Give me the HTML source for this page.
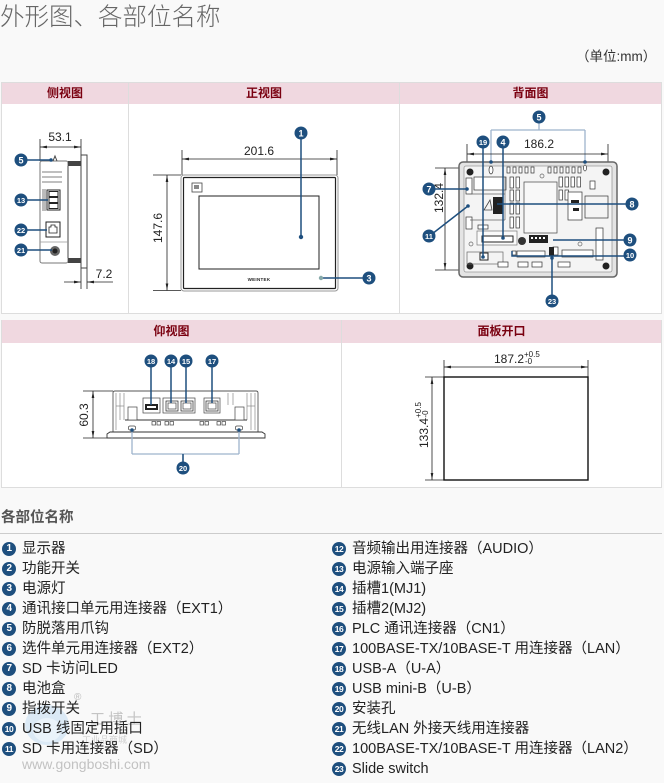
<!DOCTYPE html>
<html><head><meta charset="utf-8">
<style>
*{margin:0;padding:0;box-sizing:border-box}
html,body{width:664px;height:783px;overflow:hidden;background:#f9f9f9;font-family:"Liberation Sans","Noto Sans CJK SC",sans-serif;color:#222}
.abs{position:absolute}
.title{left:0;top:3px;font-size:24.5px;line-height:30px;color:#666;font-weight:300;font-family:"Liberation Sans","Noto Sans CJK SC",sans-serif;white-space:nowrap}
.unit{left:576px;top:49px;font-size:13.5px;line-height:16px;color:#333;white-space:nowrap}
.tbl{background:#fff;border:1px solid #ddd}
.hd{background:#f0d8e0}
.hdt{font-size:12px;font-weight:bold;color:#7a0010;line-height:22px;text-align:center;font-family:"Liberation Sans","Noto Sans CJK SC",sans-serif}
.vl{width:1px;background:#ddd}
.h2{left:1px;top:509px;font-size:14.5px;line-height:18px;font-weight:bold;color:#555;white-space:nowrap}
.hr{left:0;top:533px;width:662px;height:1px;background:#ccc}
.col{position:absolute}
.it{position:relative;height:20px;line-height:20px;font-size:14.5px;padding-left:20px;white-space:nowrap;color:#222}
.n{position:absolute;left:0;top:3px;width:14px;height:14px;border-radius:50%;background:#1e4f7e;color:#fff;font:bold 10px/14px "Liberation Sans",sans-serif;text-align:center;letter-spacing:-0.5px}
.n2{font-size:8.5px}
</style></head><body>

<div class="abs title">外形图、各部位名称</div>
<div class="abs unit">（单位:mm）</div>

<!-- table 1 -->
<div class="abs tbl" style="left:1px;top:82px;width:661px;height:232px"></div>
<div class="abs hd" style="left:2px;top:83px;width:659px;height:21px"></div>
<div class="abs hdt" style="left:2px;top:82px;width:126px">侧视图</div>
<div class="abs hdt" style="left:129px;top:82px;width:270px">正视图</div>
<div class="abs hdt" style="left:400px;top:82px;width:261px">背面图</div>
<div class="abs vl" style="left:128px;top:82px;height:231px"></div>
<div class="abs vl" style="left:399px;top:82px;height:231px"></div>

<!-- table 2 -->
<div class="abs tbl" style="left:1px;top:320px;width:661px;height:168px"></div>
<div class="abs hd" style="left:2px;top:320px;width:659px;height:23px"></div>
<div class="abs hdt" style="left:2px;top:320px;width:339px;line-height:23px">仰视图</div>
<div class="abs hdt" style="left:342px;top:320px;width:319px;line-height:23px">面板开口</div>
<div class="abs vl" style="left:341px;top:320px;height:167px"></div>

<svg class="abs" style="left:0;top:0" width="664" height="500" font-family="Liberation Sans, sans-serif">
<defs>
<marker id="ar" viewBox="0 0 10 10" refX="10" refY="5" markerWidth="7" markerHeight="7" orient="auto-start-reverse" markerUnits="userSpaceOnUse"><path d="M0,3.1L10,5L0,6.9z" fill="#222"/></marker>
</defs>

<!-- ============ SIDE VIEW ============ -->
<g stroke="#222" stroke-width="0.8" fill="none">
<line x1="40" y1="139" x2="40" y2="161"/>
<line x1="81" y1="139" x2="81" y2="155"/>
<line x1="40" y1="147" x2="81" y2="147" marker-start="url(#ar)" marker-end="url(#ar)"/>
<line x1="81" y1="268" x2="81" y2="289"/>
<line x1="87" y1="268" x2="87" y2="289"/>
<line x1="64" y1="282" x2="81" y2="282" marker-end="url(#ar)"/>
<line x1="113" y1="282" x2="87" y2="282" marker-end="url(#ar)"/>
</g>
<text x="60" y="141" font-size="12" text-anchor="middle" fill="#222">53.1</text>
<text x="104" y="278" font-size="12" text-anchor="middle" fill="#222">7.2</text>
<g stroke="#777" stroke-width="1" fill="#fff">
<rect x="40" y="161" width="28" height="102" rx="2"/>
<rect x="81" y="155" width="6" height="113" stroke="#444"/>
</g>
<rect x="68" y="161" width="13" height="5" fill="#444"/>
<rect x="68" y="258" width="13" height="5" fill="#444"/>
<line x1="68" y1="166" x2="68" y2="258" stroke="#444"/>
<g stroke="#555" stroke-width="0.8">
<line x1="42" y1="172" x2="62" y2="172"/>
<line x1="42" y1="177" x2="62" y2="177"/>
<line x1="42" y1="182" x2="62" y2="182"/>
<line x1="43" y1="189" x2="43" y2="211"/>
<line x1="45" y1="189" x2="45" y2="211"/>
<line x1="40" y1="242" x2="68" y2="242" stroke="#999"/>
</g>
<path d="M53,161 L55,156 L57,161" fill="none" stroke="#444"/>
<rect x="47" y="190" width="13" height="20" fill="#fff" stroke="#222"/>
<rect x="49" y="191.5" width="9" height="5" fill="none" stroke="#222"/>
<rect x="49" y="197.5" width="9" height="5" fill="none" stroke="#222"/>
<rect x="49" y="203.5" width="9" height="5" fill="none" stroke="#222"/>
<rect x="46" y="222" width="14" height="15" fill="#fff" stroke="#222"/>
<path d="M49,233 L49,227 L51,227 L51,225 L55,225 L55,227 L57,227 L57,233 z" fill="none" stroke="#222" stroke-width="0.8"/>
<circle cx="55" cy="251" r="5" fill="#666"/>
<circle cx="55" cy="251" r="2.5" fill="#222"/>

<!-- callouts side -->
<g stroke="#1e4f7e" stroke-width="1.5">
<line x1="21" y1="160" x2="51" y2="160"/>
<line x1="21" y1="200" x2="48" y2="200"/>
<line x1="21" y1="230" x2="47" y2="230"/>
<line x1="21" y1="250" x2="52" y2="250"/>
</g>
<g fill="#1e4f7e"><circle cx="51" cy="160" r="1.8"/></g>

<!-- ============ FRONT VIEW ============ -->
<g stroke="#222" stroke-width="0.8" fill="none">
<line x1="182" y1="150" x2="182" y2="175"/>
<line x1="337" y1="150" x2="337" y2="175"/>
<line x1="182" y1="159" x2="337" y2="159" marker-start="url(#ar)" marker-end="url(#ar)"/>
<line x1="153" y1="175" x2="181" y2="175"/>
<line x1="153" y1="290.5" x2="181" y2="290.5"/>
<line x1="167" y1="175" x2="167" y2="290.5" marker-start="url(#ar)" marker-end="url(#ar)"/>
</g>
<text x="259" y="155" font-size="12" text-anchor="middle" fill="#222">201.6</text>
<text transform="translate(162,228) rotate(-90)" font-size="12" text-anchor="middle" fill="#222">147.6</text>
<rect x="181" y="175" width="157" height="116" rx="3" fill="#fff" stroke="#999" stroke-width="1"/>
<rect x="183.5" y="177.5" width="152" height="111" rx="1" fill="none" stroke="#222" stroke-width="1.2"/>
<rect x="199" y="196" width="120" height="73" fill="#fff" stroke="#222" stroke-width="1"/>
<rect x="192" y="183" width="10" height="9" fill="#fff" stroke="#444" stroke-width="0.8"/>
<rect x="194" y="185" width="5" height="4" fill="#888"/>
<text x="259" y="281" font-size="4.5" font-weight="bold" text-anchor="middle" fill="#222" letter-spacing="0.3">WEINTEK</text>
<g stroke="#1e4f7e" stroke-width="1.5">
<line x1="301" y1="135" x2="301" y2="237"/>
<line x1="321" y1="278" x2="365" y2="278"/>
</g>
<circle cx="301" cy="237" r="2.2" fill="#1e4f7e"/>
<circle cx="321" cy="278" r="2.2" fill="#8aa"/>

<!-- ============ BACK VIEW ============ -->
<g stroke="#9db3cc" stroke-width="1.3" fill="none">
<line x1="539" y1="120" x2="539" y2="130"/>
<line x1="491" y1="130" x2="585" y2="130"/>
<line x1="491" y1="130" x2="491" y2="162"/>
<line x1="585" y1="130" x2="585" y2="162"/>
</g>
<g stroke="#222" stroke-width="0.8" fill="none">
<line x1="467" y1="144" x2="467" y2="168"/>
<line x1="608" y1="144" x2="608" y2="168"/>
<line x1="467" y1="154" x2="608" y2="154" marker-start="url(#ar)" marker-end="url(#ar)"/>
<line x1="435" y1="168" x2="467" y2="168"/>
<line x1="435" y1="270" x2="467" y2="270"/>
<line x1="445" y1="168" x2="445" y2="270" marker-start="url(#ar)" marker-end="url(#ar)"/>
</g>
<text x="539" y="148" font-size="12" text-anchor="middle" fill="#222">186.2</text>
<text transform="translate(443,198) rotate(-90)" font-size="12" text-anchor="middle" fill="#222">132.4</text>
<rect x="459" y="162" width="158" height="115" rx="4" fill="#e4e4e4" stroke="#666" stroke-width="1.5"/>
<rect x="464" y="166" width="148" height="106" rx="2" fill="#f4f4f4" stroke="#999" stroke-width="0.8"/>
<g fill="#222">
<circle cx="470" cy="172" r="3.5"/><circle cx="606" cy="172" r="3.5"/>
<circle cx="470" cy="266" r="3.5"/><circle cx="606" cy="266" r="3.5"/>
</g>
<g fill="#fff" stroke="#333" stroke-width="0.7">
<rect x="507" y="167" width="3" height="6"/><rect x="513" y="167" width="3" height="6"/><rect x="519" y="167" width="3" height="6"/><rect x="525" y="167" width="3" height="6"/><rect x="531" y="167" width="3" height="6"/>
<rect x="548" y="167" width="3" height="6"/><rect x="554" y="167" width="3" height="6"/><rect x="560" y="167" width="3" height="6"/><rect x="566" y="167" width="3" height="6"/><rect x="572" y="167" width="3" height="6"/><rect x="578" y="167" width="3" height="6"/>
<rect x="510" y="177" width="3.5" height="11"/><rect x="516" y="177" width="3.5" height="11"/>
<rect x="510" y="190" width="3.5" height="11"/><rect x="516" y="190" width="3.5" height="11"/>
<rect x="510" y="203" width="3.5" height="11"/><rect x="516" y="203" width="3.5" height="11"/>
<rect x="510" y="217" width="3.5" height="11"/><rect x="516" y="217" width="3.5" height="11"/>
<rect x="559" y="177" width="3.5" height="10"/><rect x="565" y="177" width="3.5" height="10"/><rect x="571" y="177" width="3.5" height="10"/><rect x="577" y="177" width="3.5" height="10"/>
<rect x="559" y="190" width="3.5" height="10"/><rect x="565" y="190" width="3.5" height="10"/>
<ellipse cx="491" cy="170" rx="2" ry="4"/><ellipse cx="585" cy="168" rx="1.5" ry="3"/>
<rect x="524" y="182" width="33" height="51" fill="#f8f8f8" stroke="#444"/>
<rect x="474" y="177" width="32" height="13"/>
<rect x="466" y="178" width="6" height="16"/>
<rect x="466" y="217" width="6" height="12"/>
<rect x="477" y="231" width="40" height="14" fill="#fafafa" stroke="#777"/>
<rect x="482" y="236" width="31" height="6" stroke="#222" stroke-width="1"/>
<rect x="478" y="225" width="10" height="4"/>
<rect x="568" y="192" width="14" height="28"/>
<rect x="585" y="196" width="23" height="22" fill="none"/>
<rect x="590" y="181" width="5" height="8"/>
<rect x="596" y="228" width="7" height="32"/>
<rect x="562" y="250" width="31" height="7"/>
<rect x="467" y="252" width="36" height="12" fill="none" stroke="#666"/>
<rect x="480" y="253" width="8" height="7" stroke="#222" stroke-width="1"/>
<rect x="498" y="262" width="10" height="5"/><rect x="518" y="262" width="10" height="5"/><rect x="532" y="262" width="10" height="5"/><rect x="558" y="262" width="12" height="5"/>
<rect x="512" y="251" width="4" height="4"/>
<rect x="517" y="251" width="28" height="6"/>
<rect x="553" y="247" width="5" height="8"/>
</g>
<g stroke="#666" stroke-width="0.7" fill="none">
<line x1="470" y1="194" x2="505" y2="194"/>
<line x1="505" y1="177" x2="505" y2="220"/>
<line x1="470" y1="220" x2="505" y2="220"/>
<circle cx="542" cy="176" r="2"/><circle cx="471" cy="244" r="2"/><circle cx="580" cy="244" r="2"/>
</g>
<path d="M484,210 L490,200 L492,210z" fill="none" stroke="#444" stroke-width="0.8"/>
<rect x="493" y="197" width="10" height="17" fill="#222"/>
<circle cx="522" cy="241" r="4" fill="#333"/>
<rect x="529" y="235" width="19" height="8" fill="#222"/>
<g fill="#fff"><rect x="531" y="237" width="2" height="2"/><rect x="535" y="237" width="2" height="2"/><rect x="539" y="237" width="2" height="2"/><rect x="543" y="237" width="2" height="2"/></g>
<rect x="549" y="247" width="5" height="9" fill="#222"/>
<rect x="571" y="200" width="8" height="3" fill="#222"/><rect x="573" y="208" width="6" height="3" fill="#222"/>

<g stroke="#1e4f7e" stroke-width="1.5" fill="none">
<line x1="483" y1="145" x2="483" y2="257"/>
<line x1="503" y1="145" x2="503" y2="238"/>
<line x1="432" y1="189" x2="467" y2="189"/>
<line x1="432" y1="234" x2="468" y2="206"/>
<line x1="497" y1="204" x2="628" y2="204"/>
<line x1="553" y1="240" x2="626" y2="240"/>
<path d="M512,251 L512,256 L626,256"/>
<line x1="552" y1="298" x2="552" y2="258"/>
</g>
<g fill="#1e4f7e">
<circle cx="483" cy="257" r="1.8"/><circle cx="503" cy="238" r="1.8"/><circle cx="467" cy="189" r="1.8"/><circle cx="468" cy="206" r="1.8"/><circle cx="552" cy="258" r="1.8"/>
<circle cx="491" cy="162" r="1.8"/><circle cx="585" cy="162" r="1.8"/>
</g>

<!-- ============ BOTTOM VIEW ============ -->
<g stroke="#222" stroke-width="0.8" fill="none">
<line x1="83" y1="391" x2="113" y2="391"/>
<line x1="83" y1="438" x2="107" y2="438"/>
<line x1="93" y1="391" x2="93" y2="438" marker-start="url(#ar)" marker-end="url(#ar)"/>
</g>
<text transform="translate(88,415) rotate(-90)" font-size="12" text-anchor="middle" fill="#222">60.3</text>
<path d="M113,432 L113,393 Q113,391 115,391 L256,391 Q258,391 258,393 L258,432" fill="#fff" stroke="#555" stroke-width="0.9"/>
<path d="M107,434 L110,432 L262,432 L265,434 L265,438 L107,438 z" fill="#fff" stroke="#333" stroke-width="0.9"/>
<g stroke="#888" stroke-width="0.7" fill="none">
<line x1="116" y1="393" x2="116" y2="430"/><line x1="120" y1="393" x2="120" y2="420"/><line x1="124" y1="393" x2="124" y2="420"/>
<line x1="247" y1="393" x2="247" y2="420"/><line x1="251" y1="393" x2="251" y2="430"/><line x1="255" y1="393" x2="255" y2="430"/>
<line x1="116" y1="406" x2="124" y2="406"/><line x1="247" y1="406" x2="255" y2="406"/>
<line x1="228" y1="393" x2="228" y2="405"/><line x1="233" y1="393" x2="233" y2="405"/>
</g>
<line x1="125" y1="420" x2="247" y2="420" stroke="#333" stroke-width="0.9"/>
<g fill="#fff" stroke="#444" stroke-width="0.7">
<rect x="128" y="407" width="9" height="13"/>
<rect x="235" y="407" width="9" height="13"/>
<rect x="143" y="398" width="17" height="15"/>
<rect x="163" y="398" width="32" height="15"/>
<rect x="204" y="398" width="16" height="15"/>
<rect x="166" y="401" width="12" height="10" stroke="#222"/>
<rect x="181" y="401" width="12" height="10" stroke="#222"/>
<rect x="206" y="401" width="12" height="10" stroke="#222"/>
<rect x="168" y="403" width="8" height="6"/><rect x="183" y="403" width="8" height="6"/><rect x="208" y="403" width="8" height="6"/>
<rect x="152" y="421.5" width="3.5" height="3.5"/><rect x="157" y="421.5" width="3.5" height="3.5"/>
<rect x="165" y="421.5" width="3.5" height="3.5"/><rect x="170" y="421.5" width="3.5" height="3.5"/>
<rect x="200" y="421.5" width="3.5" height="3.5"/><rect x="205" y="421.5" width="3.5" height="3.5"/>
<rect x="217" y="421.5" width="3.5" height="3.5"/><rect x="222" y="421.5" width="3.5" height="3.5"/>
<rect x="128.5" y="426" width="7" height="4" rx="1.5"/>
<rect x="235.5" y="426" width="7" height="4" rx="1.5"/>
</g>
<rect x="145" y="404" width="13" height="6" fill="#222"/>
<rect x="147" y="406" width="9" height="2" fill="#fff"/>
<g stroke="#9db3cc" stroke-width="1.3" fill="none">
<line x1="183" y1="462" x2="183" y2="454"/>
<line x1="132" y1="454" x2="239" y2="454"/>
<line x1="132" y1="454" x2="132" y2="430"/>
<line x1="239" y1="454" x2="239" y2="430"/>
</g>
<g stroke="#1e4f7e" stroke-width="1.5">
<line x1="151" y1="364" x2="151" y2="405"/>
<line x1="171" y1="364" x2="171" y2="403"/>
<line x1="186" y1="364" x2="186" y2="403"/>
<line x1="212" y1="364" x2="212" y2="403"/>
<line x1="183" y1="454" x2="183" y2="462"/>
</g>
<g fill="#1e4f7e"><circle cx="132" cy="430" r="1.8"/><circle cx="239" cy="430" r="1.8"/></g>

<!-- ============ PANEL CUTOUT ============ -->
<g stroke="#222" stroke-width="0.8" fill="none">
<line x1="444" y1="360" x2="444" y2="377"/>
<line x1="588" y1="360" x2="588" y2="377"/>
<line x1="444" y1="367" x2="588" y2="367" marker-start="url(#ar)" marker-end="url(#ar)"/>
<line x1="425" y1="377" x2="444" y2="377"/>
<line x1="425" y1="480" x2="444" y2="480"/>
<line x1="432" y1="377" x2="432" y2="480" marker-start="url(#ar)" marker-end="url(#ar)"/>
</g>
<rect x="444" y="377" width="144" height="103" fill="#fff" stroke="#111" stroke-width="1.4"/>
<text x="509" y="363" font-size="12" text-anchor="middle" fill="#222">187.2</text>
<text x="524" y="357" font-size="8" fill="#222">+0.5</text>
<text x="525" y="364" font-size="8" fill="#222">-0</text>
<text transform="translate(428,433) rotate(-90)" font-size="12" text-anchor="middle" fill="#222">133.4</text>
<text transform="translate(421,410) rotate(-90)" font-size="8" text-anchor="middle" fill="#222">+0.5</text>
<text transform="translate(428,414) rotate(-90)" font-size="8" text-anchor="middle" fill="#222">-0</text>

<!-- ============ CALLOUT CIRCLES ============ -->
<g font-weight="bold" text-anchor="middle" fill="#fff">
<g><circle cx="21" cy="160" r="6.5" fill="#1e4f7e"/><text x="21" y="163.5" font-size="9">5</text></g>
<g><circle cx="21" cy="200" r="6.5" fill="#1e4f7e"/><text x="21" y="203" font-size="7.5">13</text></g>
<g><circle cx="21" cy="230" r="6.5" fill="#1e4f7e"/><text x="21" y="233" font-size="7.5">22</text></g>
<g><circle cx="21" cy="250" r="6.5" fill="#1e4f7e"/><text x="21" y="253" font-size="7.5">21</text></g>
<g><circle cx="301" cy="133" r="6.5" fill="#1e4f7e"/><text x="301" y="136.5" font-size="9">1</text></g>
<g><circle cx="369" cy="278" r="6.5" fill="#1e4f7e"/><text x="369" y="281.5" font-size="9">3</text></g>
<g><circle cx="539" cy="117" r="6.5" fill="#1e4f7e"/><text x="539" y="120.5" font-size="9">5</text></g>
<g><circle cx="483" cy="142" r="6.5" fill="#1e4f7e"/><text x="483" y="145" font-size="7.5">19</text></g>
<g><circle cx="503" cy="142" r="6.5" fill="#1e4f7e"/><text x="503" y="145.5" font-size="9">4</text></g>
<g><circle cx="429" cy="189" r="6.5" fill="#1e4f7e"/><text x="429" y="192.5" font-size="9">7</text></g>
<g><circle cx="429" cy="236" r="6.5" fill="#1e4f7e"/><text x="429" y="239" font-size="7.5">11</text></g>
<g><circle cx="632" cy="204" r="6.5" fill="#1e4f7e"/><text x="632" y="207.5" font-size="9">8</text></g>
<g><circle cx="630" cy="240" r="6.5" fill="#1e4f7e"/><text x="630" y="243.5" font-size="9">9</text></g>
<g><circle cx="630" cy="255" r="6.5" fill="#1e4f7e"/><text x="630" y="258" font-size="7.5">10</text></g>
<g><circle cx="552" cy="301" r="6.5" fill="#1e4f7e"/><text x="552" y="304" font-size="7.5">23</text></g>
<g><circle cx="151" cy="361" r="6.5" fill="#1e4f7e"/><text x="151" y="364" font-size="7.5">18</text></g>
<g><circle cx="171" cy="361" r="6.5" fill="#1e4f7e"/><text x="171" y="364" font-size="7.5">14</text></g>
<g><circle cx="186" cy="361" r="6.5" fill="#1e4f7e"/><text x="186" y="364" font-size="7.5">15</text></g>
<g><circle cx="212" cy="361" r="6.5" fill="#1e4f7e"/><text x="212" y="364" font-size="7.5">17</text></g>
<g><circle cx="183" cy="468" r="6.5" fill="#1e4f7e"/><text x="183" y="471" font-size="7.5">20</text></g>
</g>
</svg>

<div class="abs h2">各部位名称</div>
<div class="abs hr"></div>

<!-- watermark -->
<svg class="abs" style="left:20px;top:690px" width="130" height="85">
<ellipse cx="27" cy="35" rx="22" ry="20" fill="#cfe3f3" opacity="0.7"/>
<ellipse cx="27" cy="40" rx="14" ry="12" fill="#eef5fb" opacity="0.8"/>
<text x="54" y="10" font-size="10" fill="#bbb">®</text>
<text x="70" y="34" font-size="15" fill="#c4c4c4" font-family="Noto Sans CJK SC, sans-serif">工 博 士</text>
<text x="62" y="53" font-size="9" fill="#cfcfcf" font-family="Noto Sans CJK SC, sans-serif">工业品商城</text>
</svg>
<div class="abs" style="left:22px;top:755px;font-size:14px;line-height:18px;color:#c2c2c2">www.gongboshi.com</div>

<div class="col" style="left:2px;top:539px">
<div class="it"><span class="n">1</span>显示器</div>
<div class="it"><span class="n">2</span>功能开关</div>
<div class="it"><span class="n">3</span>电源灯</div>
<div class="it"><span class="n">4</span>通讯接口单元用连接器（EXT1）</div>
<div class="it"><span class="n">5</span>防脱落用爪钩</div>
<div class="it"><span class="n">6</span>选件单元用连接器（EXT2）</div>
<div class="it"><span class="n">7</span>SD 卡访问LED</div>
<div class="it"><span class="n">8</span>电池盒</div>
<div class="it"><span class="n">9</span>指拨开关</div>
<div class="it"><span class="n n2">10</span>USB 线固定用插口</div>
<div class="it"><span class="n n2">11</span>SD 卡用连接器（SD）</div>
</div>

<div class="col" style="left:332px;top:539px">
<div class="it"><span class="n n2">12</span>音频输出用连接器（AUDIO）</div>
<div class="it"><span class="n n2">13</span>电源输入端子座</div>
<div class="it"><span class="n n2">14</span>插槽1(MJ1)</div>
<div class="it"><span class="n n2">15</span>插槽2(MJ2)</div>
<div class="it"><span class="n n2">16</span>PLC 通讯连接器（CN1）</div>
<div class="it"><span class="n n2">17</span>100BASE-TX/10BASE-T 用连接器（LAN）</div>
<div class="it"><span class="n n2">18</span>USB-A（U-A）</div>
<div class="it"><span class="n n2">19</span>USB mini-B（U-B）</div>
<div class="it"><span class="n n2">20</span>安装孔</div>
<div class="it"><span class="n n2">21</span>无线LAN 外接天线用连接器</div>
<div class="it"><span class="n n2">22</span>100BASE-TX/10BASE-T 用连接器（LAN2）</div>
<div class="it"><span class="n n2">23</span>Slide switch</div>
</div>

</body></html>
